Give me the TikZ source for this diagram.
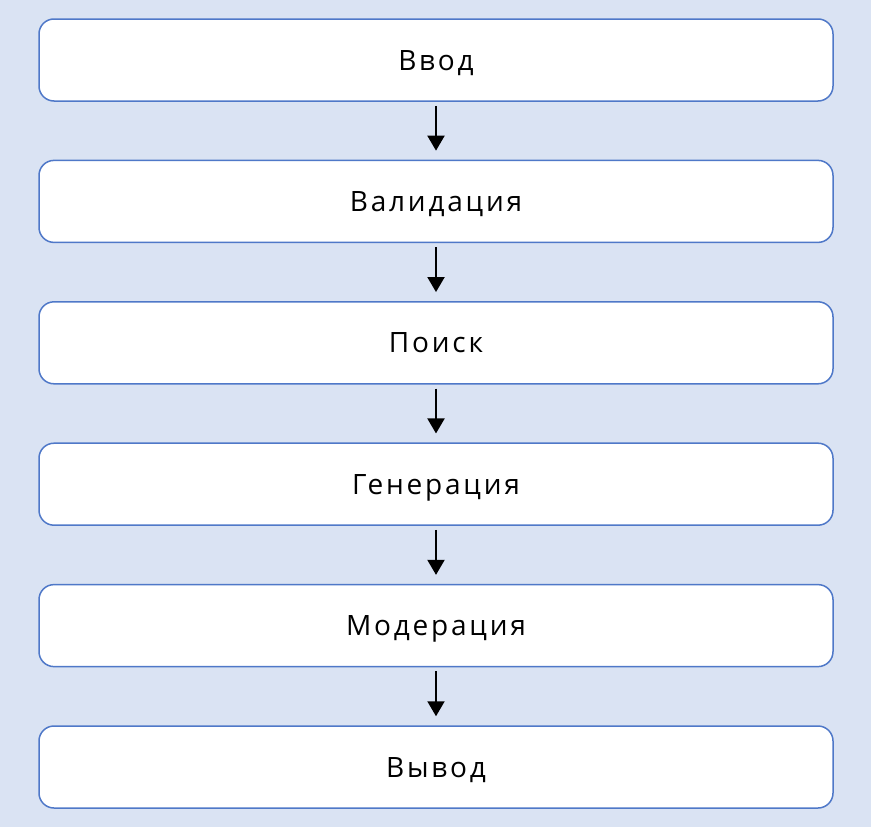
\documentclass[tikz,border=0pt]{standalone}
\usepackage{fontspec}
\setmainfont[LetterSpace=10]{Open Sans}
\usepackage{xcolor}
\usetikzlibrary{arrows.meta}
\definecolor{bgblue}{HTML}{DAE3F3}
\definecolor{boxblue}{HTML}{4F78C8}

\begin{document}
\begin{tikzpicture}[x=1pt, y=1pt,
    stage/.style={draw=boxblue, line width=1.5pt, fill=white, rounded corners=15pt,
        minimum width=794pt, minimum height=82pt, text height=20pt, text depth=0pt,
        font=\fontsize{28}{32}\selectfont},
    flow/.style={-{Triangle[length=15pt, width=17pt]}, line width=2pt,
        shorten <=4pt, shorten >=9pt}]
            \fill[bgblue] (0,0) rectangle (871,-827);
            \useasboundingbox (0,0) rectangle (871,-827);
            % Stages
            \foreach \name [count=\i] in {Ввод, Валидация, Поиск, Генерация, Модерация, Вывод}
            {
                \node[stage] (s\i) at (436, {-60-(\i-1)*141.4}) {\name};
            }
            % Arrows between stages
            \foreach \i [evaluate=\i as \j using int(\i+1)] in {1,...,5}
            {
                \draw[flow] (s\i.south) -- (s\j.north);
            }
        \end{tikzpicture}
\end{document}
